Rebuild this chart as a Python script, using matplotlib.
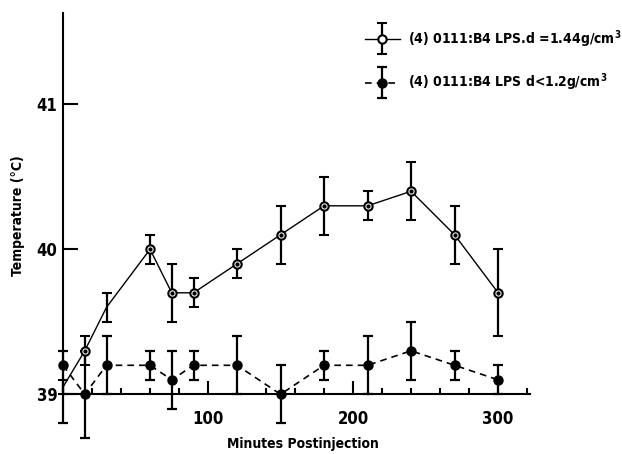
import matplotlib
matplotlib.use("Agg")
import matplotlib.pyplot as plt
from matplotlib.ticker import MultipleLocator
from matplotlib.container import ErrorbarContainer
from matplotlib.legend_handler import HandlerErrorbar

plt.rcParams['font.family'] = ['DejaVu Sans']
plt.rcParams['font.stretch'] = 'condensed'
plt.rcParams['font.weight'] = 'bold'
plt.rcParams['mathtext.fontset'] = 'custom'
plt.rcParams['mathtext.rm'] = 'DejaVu Sans:weight=bold:stretch=condensed'
plt.rcParams['mathtext.default'] = 'rm'

# ---- data ----
minutes = [0, 15, 30, 60, 75, 90, 120, 150, 180, 210, 240, 270, 300]
temp_heavy = [39.05, 39.3, 39.6, 40.0, 39.7, 39.7, 39.9, 40.1, 40.3, 40.3, 40.4, 40.1, 39.7]
err_heavy = [0.05, 0.1, 0.1, 0.1, 0.2, 0.1, 0.1, 0.2, 0.2, 0.1, 0.2, 0.2, 0.3]
marked_heavy = [1, 3, 4, 5, 6, 7, 8, 9, 10, 11, 12]

temp_light = [39.2, 39.0, 39.2, 39.2, 39.1, 39.2, 39.2, 39.0, 39.2, 39.2, 39.3, 39.2, 39.1]
err_light_low = [0.4, 0.3, 0.2, 0.1, 0.2, 0.1, 0.2, 0.2, 0.1, 0.2, 0.2, 0.1, 0.1]
err_light_high = [0.1, 0.3, 0.2, 0.1, 0.2, 0.1, 0.2, 0.2, 0.1, 0.2, 0.2, 0.1, 0.1]

labels = ['(4) 0111:B4 LPS.d =1.44g/cm$^3$', '(4) 0111:B4 LPS d<1.2g/cm$^3$']
xticks = [100, 200, 300]
yticks = [39, 40, 41]

W, H = 622, 454
fig = plt.figure(figsize=(W / 100, H / 100), dpi=100)


def px(x0, y0, x1, y1):
    return [x0 / W, 1 - y1 / H, (x1 - x0) / W, (y1 - y0) / H]


ax = fig.add_axes(px(63, 13, 530, 445))
ax.set_xlim(0, 322)
ax.set_ylim(39 - (445 - 394.3) / 145, 39 + (394.3 - 13) / 145)

ea = ax.errorbar(minutes, temp_heavy, yerr=err_heavy, color='k', lw=1.0,
                 marker='o', ms=6, mfc='white', mec='k', mew=1.5,
                 markevery=marked_heavy, elinewidth=1.6, capsize=3.6,
                 capthick=1.6, clip_on=False, zorder=3)
ax.plot([minutes[i] for i in marked_heavy], [temp_heavy[i] for i in marked_heavy],
        ls='none', marker='o', ms=2, color='k', zorder=4)

eb = ax.errorbar(minutes, temp_light, yerr=[err_light_low, err_light_high],
                 color='k', lw=1.2, ls=(0, (4, 3)), marker='o', ms=6.5,
                 elinewidth=1.6, capsize=3.6, capthick=1.6, clip_on=False,
                 zorder=3)

for s in ['top', 'right']:
    ax.spines[s].set_visible(False)
ax.spines['bottom'].set_position(('data', 39))
ax.spines['left'].set_bounds(39, ax.get_ylim()[1])
for s in ['left', 'bottom']:
    ax.spines[s].set_linewidth(1.5)

ax.set_xticks(xticks)
ax.set_xticklabels([str(v) for v in xticks])
ax.xaxis.set_minor_locator(MultipleLocator(20))
ax.set_yticks(yticks)
ax.set_yticklabels([str(v) for v in yticks])
ax.tick_params(axis='x', which='major', direction='in', length=9.5, width=1.5,
               pad=11, labelsize=12)
ax.tick_params(axis='x', which='minor', direction='in', length=4.5, width=1.5)
ax.tick_params(axis='y', which='major', direction='in', length=11, width=1.5,
               pad=4, labelsize=12)

ax.set_xlabel('Minutes Postinjection', fontsize=10, fontweight='bold')
ax.xaxis.set_label_coords(303 / W, 1 - 437 / H, transform=fig.transFigure)
ax.set_ylabel('Temperature (°C)', fontsize=10, fontweight='bold')
ax.yaxis.set_label_coords(25 / W, 1 - 216 / H, transform=fig.transFigure)

leg = ax.legend([ea, eb], labels, loc='upper left',
                bbox_to_anchor=(365 / W, 1 - 28 / H), bbox_transform=fig.transFigure,
                frameon=False, handlelength=2.5, handletextpad=0.6,
                labelspacing=1.6, borderpad=0, borderaxespad=0,
                prop={'size': 10, 'weight': 'bold', 'stretch': 'condensed'},
                handler_map={ErrorbarContainer: HandlerErrorbar(yerr_size=1.1)})

fig.savefig('out.png', dpi=100)
